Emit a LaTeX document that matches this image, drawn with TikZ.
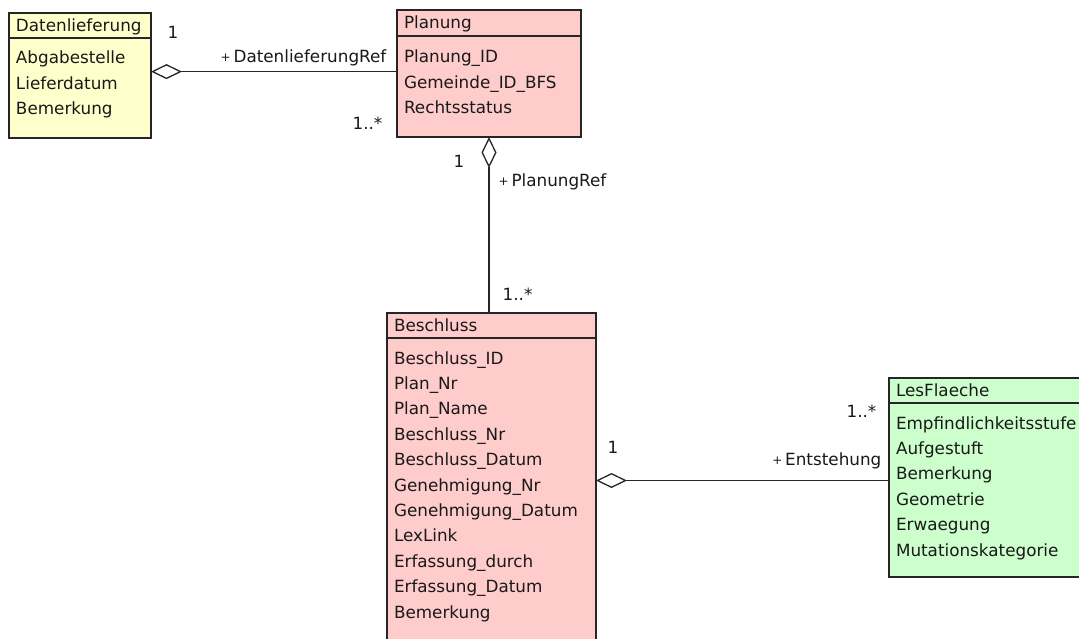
\documentclass[tikz,border=0pt]{standalone}
\usepackage{fontspec}
\setmainfont{DejaVu Sans}
\usepackage{tikz}
\usetikzlibrary{arrows.meta}

\definecolor{dlyellow}{HTML}{FFFFCC}
\definecolor{plpink}{HTML}{FFCCCC}
\definecolor{lfgreen}{HTML}{CCFFCC}
\newcommand{\pubvis}{\raisebox{1.5pt}{\fontsize{12}{12}\selectfont +}\,}

\begin{document}
\begin{tikzpicture}[
    x=1pt, y=-1pt,
    every node/.style={font=\fontsize{16.8}{25.4}\selectfont, text=black!90},
    clshead/.style={draw=black!85, line width=1.5pt, fill=#1, anchor=north west, outer sep=0pt, inner xsep=7pt, inner ysep=0pt, align=left, text height=18.5pt, text depth=6.5pt},
    clsattr/.style={draw=black!85, line width=1.5pt, fill=#1, anchor=north west, outer sep=0pt, inner xsep=7pt, inner ysep=0pt, align=left, text height=26pt},
    agg/.style={{Diamond[open, length=31pt, width=15pt]}-, line width=1.3pt, draw=black!85},
    mult/.style={inner sep=0pt}
]
    \useasboundingbox (0,0) rectangle (1079,639);
    \clip (0,0) rectangle (1079,639);

    % classes
    \node[clshead=dlyellow, text width=128pt] (datenlieferung) at (9,13) {Datenlieferung};
    \node[clsattr=dlyellow, text width=128pt, text depth=74pt] (datenlieferung-attr) at (datenlieferung.south west)
        {Abgabestelle\\Lieferdatum\\Bemerkung};

    \node[clshead=plpink, text width=170pt, text depth=7.5pt] (planung) at (397,10) {Planung};
    \node[clsattr=plpink, text width=170pt, text height=27pt, text depth=74pt] (planung-attr) at (planung.south west)
        {Planung\_ID\\Gemeinde\_ID\_BFS\\Rechtsstatus};

    \node[clshead=plpink, text width=195pt] (beschluss) at (387,313) {Beschluss};
    \node[clsattr=plpink, text width=195pt, text depth=281pt] (beschluss-attr) at (beschluss.south west)
        {Beschluss\_ID\\Plan\_Nr\\Plan\_Name\\Beschluss\_Nr\\Beschluss\_Datum\\Genehmigung\_Nr\\Genehmigung\_Datum\\LexLink\\Erfassung\_durch\\Erfassung\_Datum\\Bemerkung};

    \node[clshead=lfgreen, text width=192pt] (lesflaeche) at (889,378) {LesFlaeche};
    \node[clsattr=lfgreen, text width=192pt, text depth=148pt] (lesflaeche-attr) at (lesflaeche.south west)
        {Empfindlichkeitsstufe\\Aufgestuft\\Bemerkung\\Geometrie\\Erwaegung\\Mutationskategorie};

    % aggregations
    \draw[agg] (datenlieferung-attr.13) -- (planung-attr.west |- datenlieferung-attr.13)
        node[mult, at start, anchor=base west, xshift=16pt, yshift=33pt] (dl-mult) {1}
        node[mult, at end, anchor=base east, xshift=-10pt, yshift=9pt] (dl-role) {\pubvis DatenlieferungRef}
        node[mult, at end, anchor=base east, xshift=-14pt, yshift=-58pt] (pl-mult-a) {1..*};

    \draw[agg] (planung-attr.south) -- (planung-attr.south |- beschluss.north)
        node[mult, at start, anchor=base east, xshift=-24pt, yshift=-31pt] (pl-mult-b) {1}
        node[mult, at start, anchor=base west, xshift=9pt, yshift=-50pt] (pl-role) {\pubvis PlanungRef}
        node[mult, at end, anchor=base west, xshift=13pt, yshift=13pt] (bs-mult-a) {1..*};

    \draw[agg] (beschluss-attr.6) -- (lesflaeche-attr.west |- beschluss-attr.6)
        node[mult, at start, anchor=base west, xshift=11pt, yshift=27pt] (bs-mult-b) {1}
        node[mult, at end, anchor=base east, xshift=-7pt, yshift=15pt] (lf-role) {\pubvis Entstehung}
        node[mult, at end, anchor=base east, xshift=-12pt, yshift=63pt] (lf-mult) {1..*};
\end{tikzpicture}
\end{document}
